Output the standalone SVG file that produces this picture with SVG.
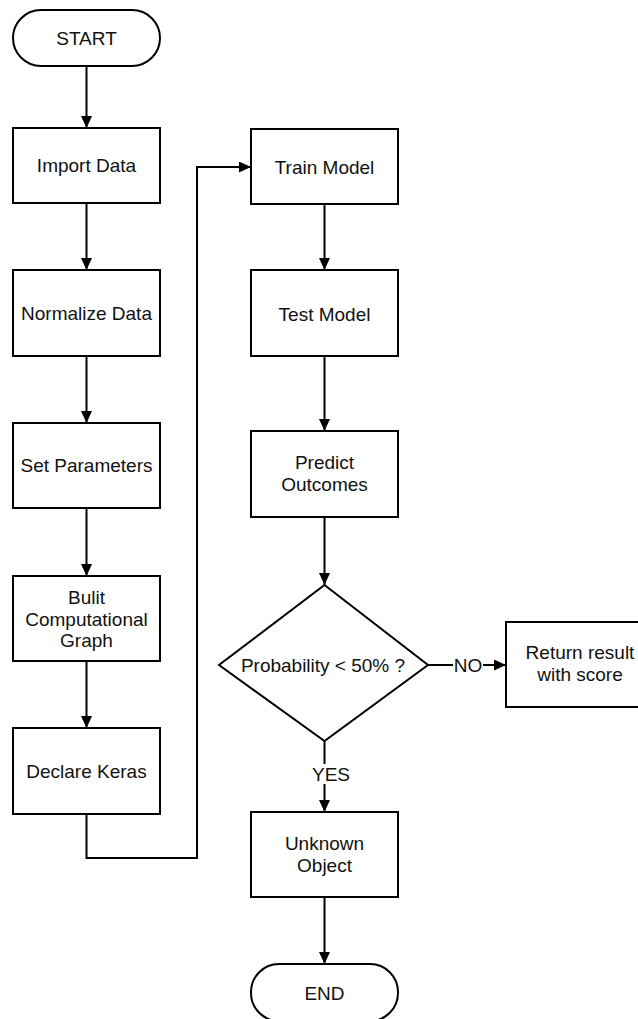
<svg xmlns="http://www.w3.org/2000/svg" width="638" height="1019" viewBox="0 0 638 1019">
<style>
.box{fill:#fff;stroke:#000;stroke-width:2}
.lbl{font-family:"Liberation Sans",Arial,sans-serif;font-size:19px;fill:#111;text-anchor:middle}
.edge{fill:none;stroke:#000;stroke-width:2}
</style>
<defs>
<marker id="ah" markerUnits="userSpaceOnUse" markerWidth="12" markerHeight="12" refX="12" refY="5.5" orient="auto">
<path d="M0,0 L12,5.5 L0,11 z" fill="#000"/>
</marker>
</defs>
<rect width="638" height="1019" fill="#fff"/>
<g id="connectors">
<line class="edge" x1="86.5" y1="66" x2="86.5" y2="128" marker-end="url(#ah)"/>
<line class="edge" x1="86.5" y1="203" x2="86.5" y2="270" marker-end="url(#ah)"/>
<line class="edge" x1="86.5" y1="356" x2="86.5" y2="423" marker-end="url(#ah)"/>
<line class="edge" x1="86.5" y1="508" x2="86.5" y2="576" marker-end="url(#ah)"/>
<line class="edge" x1="86.5" y1="661" x2="86.5" y2="728" marker-end="url(#ah)"/>
<path class="edge" d="M86.5,814 V858 H197 V167 H251" marker-end="url(#ah)"/>
<line class="edge" x1="324.5" y1="204" x2="324.5" y2="270" marker-end="url(#ah)"/>
<line class="edge" x1="324.5" y1="356" x2="324.5" y2="431" marker-end="url(#ah)"/>
<line class="edge" x1="324.5" y1="517" x2="324.5" y2="585" marker-end="url(#ah)"/>
<line class="edge" x1="324.5" y1="741" x2="324.5" y2="764"/>
<line class="edge" x1="324.5" y1="784" x2="324.5" y2="812" marker-end="url(#ah)"/>
<text class="lbl" x="331" y="781">YES</text>
<line class="edge" x1="428" y1="665" x2="453" y2="665"/>
<line class="edge" x1="483" y1="665" x2="506" y2="665" marker-end="url(#ah)"/>
<text class="lbl" x="468" y="672">NO</text>
<line class="edge" x1="324.5" y1="897" x2="324.5" y2="964" marker-end="url(#ah)"/>
</g>
<g id="start">
<rect class="box" x="13" y="10" width="147" height="56" rx="28" ry="28"/>
<text class="lbl" x="86.5" y="45">START</text>
</g>
<g id="import">
<rect class="box" x="13" y="128" width="147" height="75"/>
<text class="lbl" x="86.5" y="172">Import Data</text>
</g>
<g id="normalize">
<rect class="box" x="13" y="270" width="147" height="86"/>
<text class="lbl" x="86.5" y="320">Normalize Data</text>
</g>
<g id="setparams">
<rect class="box" x="13" y="423" width="147" height="85"/>
<text class="lbl" x="86.5" y="472">Set Parameters</text>
</g>
<g id="graph">
<rect class="box" x="13" y="576" width="147" height="85"/>
<text class="lbl" x="86.5" y="604">Bulit</text>
<text class="lbl" x="86.5" y="626">Computational</text>
<text class="lbl" x="86.5" y="647">Graph</text>
</g>
<g id="keras">
<rect class="box" x="13" y="728" width="147" height="86"/>
<text class="lbl" x="86.5" y="778">Declare Keras</text>
</g>
<g id="train">
<rect class="box" x="251" y="129" width="147" height="75"/>
<text class="lbl" x="324.5" y="174">Train Model</text>
</g>
<g id="test">
<rect class="box" x="251" y="270" width="147" height="86"/>
<text class="lbl" x="324.5" y="321">Test Model</text>
</g>
<g id="predict">
<rect class="box" x="251" y="431" width="147" height="86"/>
<text class="lbl" x="324.5" y="469">Predict</text>
<text class="lbl" x="324.5" y="491">Outcomes</text>
</g>
<g id="decision">
<polygon class="box" points="324.5,585 428,665 324.5,741 219,665"/>
<text class="lbl" x="323" y="672">Probability &lt; 50% ?</text>
</g>
<g id="return">
<rect class="box" x="506" y="622" width="148" height="85"/>
<text class="lbl" x="580" y="659">Return result</text>
<text class="lbl" x="580" y="681">with score</text>
</g>
<g id="unknown">
<rect class="box" x="251" y="812" width="147" height="85"/>
<text class="lbl" x="324.5" y="850">Unknown</text>
<text class="lbl" x="324.5" y="872">Object</text>
</g>
<g id="end">
<rect class="box" x="251" y="964" width="147" height="57" rx="28" ry="28"/>
<text class="lbl" x="324.5" y="1000">END</text>
</g>
</svg>
